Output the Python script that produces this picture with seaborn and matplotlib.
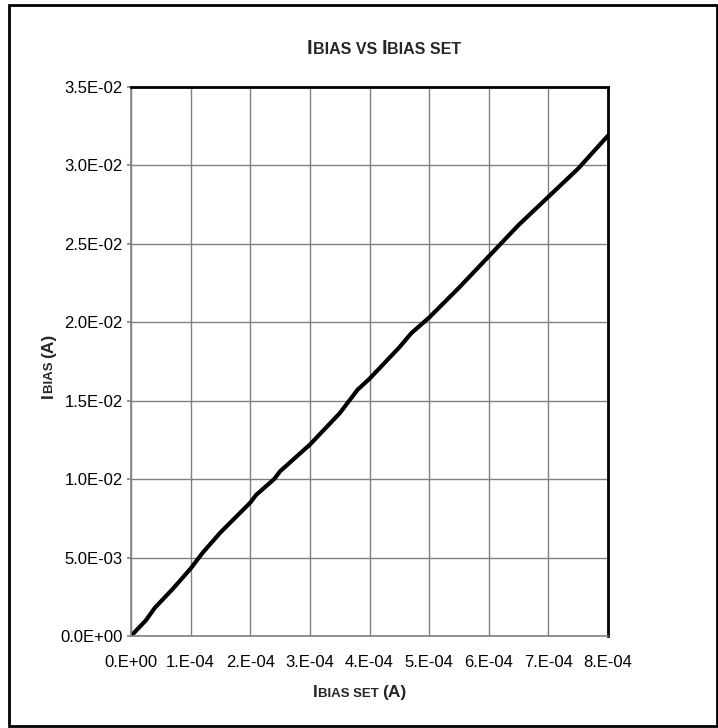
import numpy as np
import pandas as pd
import matplotlib
matplotlib.use("Agg")
import matplotlib.pyplot as plt
import seaborn as sns
from matplotlib.ticker import MultipleLocator, FuncFormatter

# valores
ibias_set = [0.0, 0.25e-4, 0.4e-4, 0.7e-4, 1.0e-4, 1.2e-4, 1.5e-4, 2.0e-4, 2.1e-4,
             2.4e-4, 2.5e-4, 3.0e-4, 3.5e-4, 3.7e-4, 3.8e-4, 4.0e-4, 4.5e-4, 4.7e-4,
             5.0e-4, 5.5e-4, 6.0e-4, 6.5e-4, 7.0e-4, 7.5e-4, 8.0e-4]
ibias = [0.0, 0.0010, 0.0018, 0.0030, 0.0043, 0.0053, 0.0066, 0.0085, 0.0090,
         0.0100, 0.0105, 0.0122, 0.0142, 0.0152, 0.0157, 0.0164, 0.0184, 0.0193,
         0.0203, 0.0222, 0.0242, 0.0262, 0.0280, 0.0298, 0.0319]

title_parts = [("I", 14.5), ("BIAS VS ", 11.5), ("I", 14.5), ("BIAS SET", 11.5)]
xlabel_parts = [("I", 12.5), ("BIAS SET ", 9.5), ("(A)", 12.5)]
ylabel_parts = [("I", 12.5), ("BIAS ", 9.5), ("(A)", 12.5)]

df = pd.DataFrame({"set": ibias_set, "ibias": ibias})

sns.set_style("white")
plt.rcParams["font.family"] = ["Liberation Sans", "DejaVu Sans"]

W, H = 718, 728
fig = plt.figure(figsize=(W / 100, H / 100), dpi=100)
ax = fig.add_axes([131 / W, 1 - 636 / H, (608 - 131) / W, (636 - 87) / H])

sns.lineplot(data=df, x="set", y="ibias", ax=ax, color="black", linewidth=3)

ax.set_xlim(0, 8e-4)
ax.set_ylim(0, 0.035)
ax.xaxis.set_major_locator(MultipleLocator(1e-4))
ax.yaxis.set_major_locator(MultipleLocator(5e-3))
ax.xaxis.set_major_formatter(FuncFormatter(lambda v, p: ("%.0E" % v).replace("E", ".E")))
ax.yaxis.set_major_formatter(FuncFormatter(lambda v, p: "%.1E" % v))
ax.tick_params(labelsize=12, labelcolor="black")
ax.tick_params(axis="x", length=0, pad=14)
ax.tick_params(axis="y", left=True, length=3, width=1.2, color="#808080",
               direction="out", pad=3)
ax.set_xlabel("")
ax.set_ylabel("")
ax.grid(True, color="#808080", linewidth=1)
ax.set_axisbelow(True)
for s in ["left", "bottom"]:
    ax.spines[s].set_color("#808080")
    ax.spines[s].set_linewidth(1.2)
for s in ["top", "right"]:
    ax.spines[s].set_color("black")
    ax.spines[s].set_linewidth(2)

# marco exterior
fig.patches.append(plt.Rectangle((9 / W, 1 - 726 / H), (717 - 9) / W, (726 - 5) / H,
                                 transform=fig.transFigure, fill=False,
                                 edgecolor="black", linewidth=2))


def versalitas(cx, cy, parts, rotation=0):
    # coloca texto tipo "small caps" centrado en (cx, cy) píxeles
    r = fig.canvas.get_renderer()
    texts = []
    for t, size in parts:
        txt = fig.text(0, 0, t, fontsize=size, fontweight="bold",
                       ha="left", va="baseline", rotation=rotation,
                       rotation_mode="anchor")
        texts.append(txt)
    widths = []
    for txt in texts:
        txt.set_rotation(0)
        widths.append(txt.get_window_extent(r).width)
        txt.set_rotation(rotation)
    total = sum(widths)
    pos = -total / 2
    for txt, w in zip(texts, widths):
        if rotation == 0:
            txt.set_position(((cx + pos) / W, 1 - cy / H))
        else:
            txt.set_position((cx / W, 1 - (cy - pos) / H))
        pos += w


versalitas(384, 54, title_parts)
versalitas(360, 697, xlabel_parts)
versalitas(53, 366, ylabel_parts, rotation=90)

fig.savefig("out.png", dpi=100, facecolor="white")
